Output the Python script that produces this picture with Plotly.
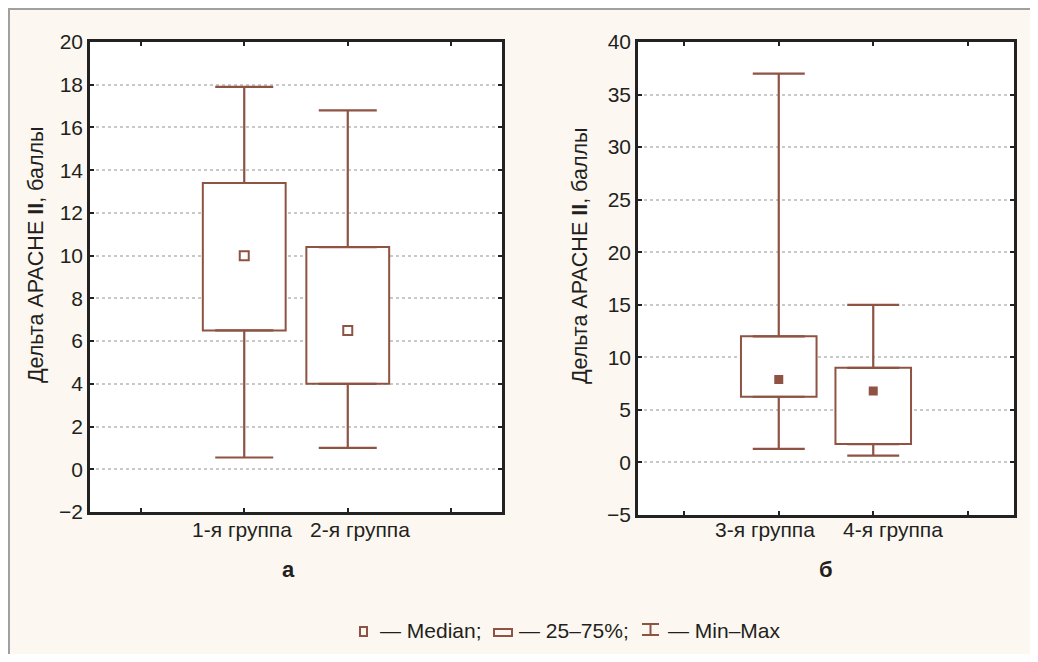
import plotly.graph_objects as go

# ---- data ----
groups_a = ["1-я группа", "2-я группа"]
min_a = [0.55, 1.0]
q1_a = [6.5, 4.0]
median_a = [10.0, 6.5]
q3_a = [13.4, 10.4]
max_a = [17.9, 16.8]

groups_b = ["3-я группа", "4-я группа"]
min_b = [1.3, 0.65]
q1_b = [6.25, 1.75]
median_b = [7.9, 6.8]
q3_b = [12.0, 9.0]
max_b = [37.0, 15.0]

yticks_a = [-2, 0, 2, 4, 6, 8, 10, 12, 14, 16, 18, 20]
yticks_b = [-5, 0, 5, 10, 15, 20, 25, 30, 35, 40]
ytext_a = ["\u22122" if v < 0 else str(v) for v in yticks_a]
ytext_b = ["\u22125" if v < 0 else str(v) for v in yticks_b]

# page offset (browser body margin) compensation
OFF = 8
W, H = 1022, 646
BROWN = "#8E5343"
BG = "#FCF8F1"
FONT = "Liberation Sans, Arial, sans-serif"
TXT = "#231F20"


def px(x):
    return (x - OFF) / W


def py(y):
    return 1 - (y - OFF) / H


fig = go.Figure()


def add_panel(groups, mn, q1, med, q3, mx, xa, ya, filled, msize, cap_half):
    pos = [i + 1 for i in range(len(groups))]
    # boxes (25-75%)
    fig.add_trace(go.Bar(
        x=pos, y=[b - a for a, b in zip(q1, q3)], base=q1, width=0.8,
        marker=dict(color="white", line=dict(color=BROWN, width=2)),
        xaxis=xa, yaxis=ya, showlegend=False, hoverinfo="skip"))
    # upper whiskers
    fig.add_trace(go.Scatter(
        x=pos, y=q3, mode="markers", marker=dict(size=0.1, color=BROWN),
        error_y=dict(type="data", symmetric=False,
                     array=[b - a for a, b in zip(q3, mx)],
                     arrayminus=[0] * len(pos), color=BROWN,
                     thickness=2.2, width=cap_half),
        xaxis=xa, yaxis=ya, showlegend=False, hoverinfo="skip"))
    # lower whiskers
    fig.add_trace(go.Scatter(
        x=pos, y=q1, mode="markers", marker=dict(size=0.1, color=BROWN),
        error_y=dict(type="data", symmetric=False,
                     array=[0] * len(pos),
                     arrayminus=[a - b for a, b in zip(q1, mn)], color=BROWN,
                     thickness=2.2, width=cap_half),
        xaxis=xa, yaxis=ya, showlegend=False, hoverinfo="skip"))
    # medians
    fig.add_trace(go.Scatter(
        x=pos, y=med, mode="markers",
        marker=dict(symbol="square", size=msize,
                    color=BROWN if filled else "white",
                    line=dict(color=BROWN, width=2)),
        xaxis=xa, yaxis=ya, showlegend=False, hoverinfo="skip"))


add_panel(groups_a, min_a, q1_a, median_a, q3_a, max_a, "x", "y", False, 9, 29)
add_panel(groups_b, min_b, q1_b, median_b, q3_b, max_b, "x2", "y2", True, 7, 26)


def xax(dom, anchor):
    return dict(domain=dom, anchor=anchor, range=[-0.49, 3.49], tickmode="array",
                tickvals=[0, 1, 2, 3], ticktext=["", "", "", ""],
                ticks="inside", ticklen=4, tickwidth=2, tickcolor="#222",
                showline=True, linecolor="#222", linewidth=2.5, mirror="ticks",
                showgrid=False, zeroline=False, automargin=False, fixedrange=True)


def yax(dom, rng, tv, tt, anchor):
    return dict(domain=dom, anchor=anchor, range=rng, tickmode="array", tickvals=tv, ticktext=tt,
                ticks="inside", ticklen=4, tickwidth=2, tickcolor="#222",
                showline=True, linecolor="#222", linewidth=2.5, mirror="ticks",
                showgrid=True, gridcolor="#C9C9C9", gridwidth=2, griddash="dot",
                zeroline=False, automargin=False,
                tickfont=dict(family=FONT, size=21, color=TXT),
                fixedrange=True)


fig.update_layout(
    width=W, height=H, margin=dict(l=0, r=0, t=0, b=0, autoexpand=False),
    paper_bgcolor=BG, plot_bgcolor="white", showlegend=False, barmode="overlay",
    xaxis=xax([px(90), px(502)], "y"),
    yaxis=yax([py(512), py(42)], [-2, 20], yticks_a, ytext_a, "x"),
    xaxis2=xax([px(638), px(1014)], "y2"),
    yaxis2=yax([py(515), py(42)], [-5, 40], yticks_b, ytext_b, "x2"),
)

ytitle = "Дельта APACHE <b>II</b>, баллы"
annots = [
    dict(x=px(36), y=py(255), text=ytitle, textangle=-90, size=21.5),
    dict(x=px(580), y=py(256), text=ytitle, textangle=-90, size=21.5),
    dict(x=px(242), y=py(529), text=groups_a[0], size=21),
    dict(x=px(360), y=py(529), text=groups_a[1], size=21),
    dict(x=px(765), y=py(529), text=groups_b[0], size=21),
    dict(x=px(893), y=py(529), text=groups_b[1], size=21),
    dict(x=px(288), y=py(569), text="<b>а</b>", size=22),
    dict(x=px(826), y=py(569), text="<b>б</b>", size=22),
    dict(x=px(379), y=py(630), text="— Median;", xanchor="left", size=21),
    dict(x=px(518), y=py(630), text="— 25–75%;", xanchor="left", size=21),
    dict(x=px(667), y=py(630), text="— Min–Max", xanchor="left", size=21),
]
for a in annots:
    a.setdefault("xanchor", "center")
    sz = a.pop("size")
    fig.add_annotation(xref="paper", yref="paper", yanchor="middle", showarrow=False,
                       borderpad=0, font=dict(family=FONT, size=sz, color=TXT), **a)

# legend glyphs and page frame (decoration)
shapes = [
    dict(type="rect", x0=360, x1=367, y0=627, y1=636, line=dict(color=BROWN, width=2), fillcolor=BG),
    dict(type="rect", x0=494, x1=512, y0=629, y1=636, line=dict(color=BROWN, width=2), fillcolor=BG),
    dict(type="line", x0=642, x1=659, y0=624, y1=624, line=dict(color=BROWN, width=2)),
    dict(type="line", x0=650.5, x1=650.5, y0=624, y1=635, line=dict(color=BROWN, width=2)),
    dict(type="line", x0=642, x1=659, y0=635, y1=635, line=dict(color=BROWN, width=2)),
    dict(type="line", x0=OFF, x1=OFF + W, y0=OFF + 1, y1=OFF + 1, line=dict(color="#A0A0A0", width=2)),
    dict(type="line", x0=OFF + 1, x1=OFF + 1, y0=OFF, y1=OFF + H, line=dict(color="#A0A0A0", width=2)),
]
for s in shapes:
    s["x0"] = px(s["x0"]); s["x1"] = px(s["x1"])
    s["y0"] = py(s["y0"]); s["y1"] = py(s["y1"])
    fig.add_shape(xref="paper", yref="paper", layer="above", **s)

fig.write_html("out.html")
